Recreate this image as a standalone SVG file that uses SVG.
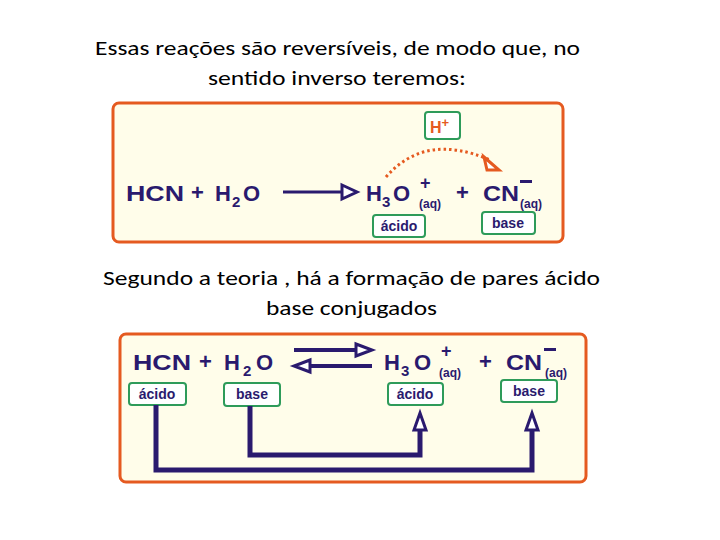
<svg xmlns="http://www.w3.org/2000/svg" width="720" height="540" viewBox="0 0 720 540">
<style>
.t{font-family:"Liberation Sans",Arial,sans-serif;font-weight:bold;fill:#2a1a6e}
.h{font-family:"Carlito","Liberation Sans",sans-serif;font-size:20px;fill:#000}
.lb{fill:#fff;stroke:#2e9b5a;stroke-width:2}
.lt{font-family:"Liberation Sans",Arial,sans-serif;font-weight:bold;font-size:14px;fill:#2a1a6e}
.panel{fill:#fffdea;stroke:#e55a20;stroke-width:3}
.c{fill:none;stroke:#2a1a6e;stroke-width:5}
</style>
<rect width="720" height="540" fill="#fff"/>
<text class="h" x="95" y="55" textLength="485" lengthAdjust="spacingAndGlyphs">Essas reações são reversíveis, de modo que, no</text>
<text class="h" x="208" y="85" textLength="258" lengthAdjust="spacingAndGlyphs">sentido inverso teremos:</text>
<text class="h" x="103" y="285" textLength="497" lengthAdjust="spacingAndGlyphs">Segundo a teoria , há a formação de pares ácido</text>
<text class="h" x="266" y="315" textLength="171" lengthAdjust="spacingAndGlyphs">base conjugados</text>

<g id="panel1">
<rect class="panel" x="113" y="103" width="450" height="139" rx="6"/>
<text class="t" x="126" y="201" font-size="22" textLength="58" lengthAdjust="spacingAndGlyphs">HCN</text>
<text class="t" x="191" y="200" font-size="22">+</text>
<text class="t" x="215" y="201" font-size="22">H</text>
<text class="t" x="232" y="207" font-size="15">2</text>
<text class="t" x="243" y="201" font-size="22">O</text>
<line x1="283" y1="192" x2="345" y2="192" stroke="#2a1a6e" stroke-width="3"/>
<path d="M342,185 L357,192 L342,199 Z" fill="#fff" stroke="#2a1a6e" stroke-width="3"/>
<text class="t" x="366" y="201" font-size="22">H</text>
<text class="t" x="382" y="207" font-size="15">3</text>
<text class="t" x="393" y="201" font-size="22">O</text>
<text class="t" x="420" y="189" font-size="18">+</text>
<text class="t" x="419" y="208" font-size="12">(aq)</text>
<text class="t" x="456" y="200" font-size="22">+</text>
<text class="t" x="483" y="201" font-size="22" textLength="36" lengthAdjust="spacingAndGlyphs">CN</text>
<rect x="520" y="180" width="12" height="3" fill="#2a1a6e"/>
<text class="t" x="520" y="208" font-size="12">(aq)</text>
<g id="hplus"><rect class="lb" x="425" y="112" width="35" height="27" rx="3"/>
<text x="430" y="133" font-family="Liberation Sans,Arial,sans-serif" font-weight="bold" font-size="16" fill="#e55a20">H<tspan font-size="13" dy="-6">+</tspan></text></g>
<path d="M386,177 Q425,132 490,160" fill="none" stroke="#e55a20" stroke-width="3" stroke-dasharray="2.5,3"/>
<path d="M484,157 L499,170 L487,170 Z" fill="#fff" stroke="#e55a20" stroke-width="3"/>
<g id="l1"><rect class="lb" x="373" y="215" width="52" height="22" rx="3"/><text class="lt" x="399" y="231" text-anchor="middle">ácido</text></g>
<g id="l2"><rect class="lb" x="482" y="212" width="53" height="22" rx="3"/><text class="lt" x="508" y="228" text-anchor="middle">base</text></g>
</g>

<g id="panel2">
<rect class="panel" x="120" y="334" width="466" height="148" rx="6"/>
<text class="t" x="133" y="370" font-size="22" textLength="58" lengthAdjust="spacingAndGlyphs">HCN</text>
<text class="t" x="199" y="369" font-size="22">+</text>
<text class="t" x="224" y="370" font-size="22">H</text>
<text class="t" x="243" y="376" font-size="15">2</text>
<text class="t" x="256" y="370" font-size="22">O</text>
<line x1="294" y1="350" x2="360" y2="350" stroke="#2a1a6e" stroke-width="4"/>
<path d="M356,344 L372,350 L356,356 Z" fill="#fff" stroke="#2a1a6e" stroke-width="3"/>
<line x1="310" y1="366" x2="372" y2="366" stroke="#2a1a6e" stroke-width="4"/>
<path d="M310,360 L294,366 L310,372 Z" fill="#fff" stroke="#2a1a6e" stroke-width="3"/>
<text class="t" x="384" y="370" font-size="22">H</text>
<text class="t" x="401" y="376" font-size="15">3</text>
<text class="t" x="414" y="370" font-size="22">O</text>
<text class="t" x="441" y="357" font-size="18">+</text>
<text class="t" x="439" y="377" font-size="12">(aq)</text>
<text class="t" x="479" y="369" font-size="22">+</text>
<text class="t" x="506" y="370" font-size="22" textLength="36" lengthAdjust="spacingAndGlyphs">CN</text>
<rect x="544" y="348" width="12" height="3" fill="#2a1a6e"/>
<text class="t" x="545" y="377" font-size="12">(aq)</text>
<g id="b1"><rect class="lb" x="129" y="383" width="57" height="22" rx="3"/><text class="lt" x="157" y="399" text-anchor="middle">ácido</text></g>
<g id="b2"><rect class="lb" x="224" y="383" width="56" height="23" rx="3"/><text class="lt" x="252" y="399" text-anchor="middle">base</text></g>
<g id="b3"><rect class="lb" x="388" y="383" width="55" height="22" rx="3"/><text class="lt" x="415" y="399" text-anchor="middle">ácido</text></g>
<g id="b4"><rect class="lb" x="501" y="380" width="56" height="22" rx="3"/><text class="lt" x="529" y="396" text-anchor="middle">base</text></g>
</g>

<g id="connectors">
<path class="c" d="M156,405 V470 H532 V424"/>
<path d="M526,430 L532,413 L538,430 Z" fill="#fff" stroke="#2a1a6e" stroke-width="3"/>
<path class="c" d="M250,406 V455 H420 V424"/>
<path d="M414,430 L420,413 L426,430 Z" fill="#fff" stroke="#2a1a6e" stroke-width="3"/>
</g>
</svg>
